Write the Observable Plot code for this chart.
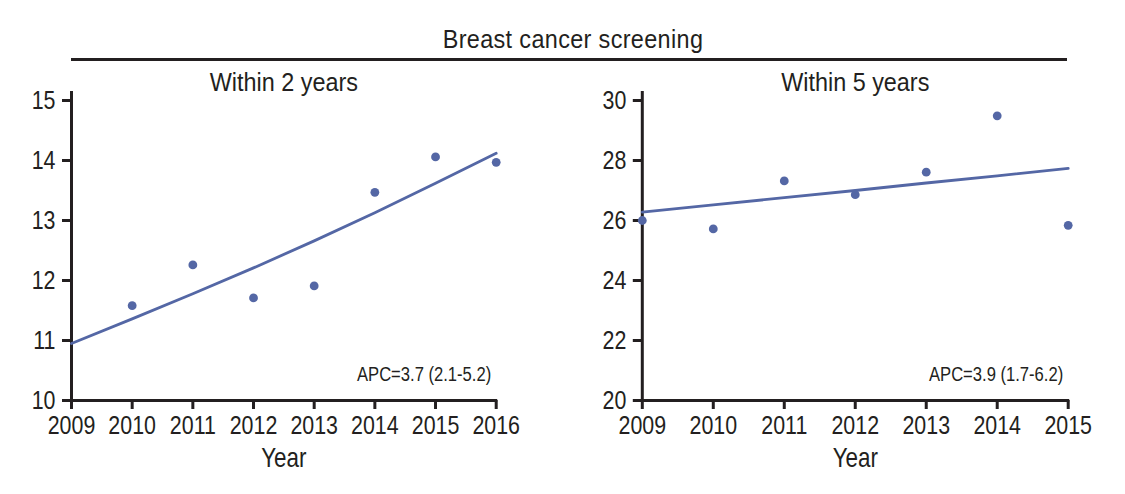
<!DOCTYPE html>
<html>
<head>
<meta charset="utf-8">
<script src="https://cdn.jsdelivr.net/npm/d3@7"></script>
<script src="https://cdn.jsdelivr.net/npm/@observablehq/plot@0.6"></script>
<style>
  html, body { margin: 0; padding: 0; background: #fff; }
  #wrap { position: relative; width: 1125px; height: 494px; overflow: hidden;
          font-family: "Liberation Sans", Arial, sans-serif; color: #231f20; }
  #title { position: absolute; left: 0; width: 1146px; top: 26.3px; text-align: center;
           font-size: 26px; line-height: 26px; letter-spacing: 0.4px;
           transform: scaleX(0.9); transform-origin: 573px 0; white-space: nowrap; }
  #rule { position: absolute; left: 71px; top: 57.8px; width: 996px; height: 3px; background: #231f20; }
  .panel { position: absolute; top: 0; }
</style>
</head>
<body>
<div id="wrap">
  <div id="title"></div>
  <div id="rule"></div>
  <div id="left" class="panel" style="left:0px"></div>
  <div id="right" class="panel" style="left:560px"></div>
</div>
<script>
// ---- data ----
const chartTitle = "Breast cancer screening";
const panelTitles = ["Within 2 years", "Within 5 years"];
const apcLabels = ["APC=3.7 (2.1-5.2)", "APC=3.9 (1.7-6.2)"];
const axisLabel = "Year";

const yearsLeft = [2009, 2010, 2011, 2012, 2013, 2014, 2015, 2016];
const obsYearsLeft = [2010, 2011, 2012, 2013, 2014, 2015, 2016];
const obsLeft = [11.58, 12.26, 11.71, 11.91, 13.47, 14.06, 13.97];
const trendLeft = [10.95, 11.36, 11.78, 12.21, 12.66, 13.13, 13.62, 14.12];
const yTicksLeft = [10, 11, 12, 13, 14, 15];

const yearsRight = [2009, 2010, 2011, 2012, 2013, 2014, 2015];
const obsRight = [26.0, 25.72, 27.32, 26.86, 27.61, 29.49, 25.84];
const trendRight = [26.28, 26.52, 26.76, 27.0, 27.25, 27.49, 27.74];
const yTicksRight = [20, 22, 24, 26, 28, 30];

const blue = "#5467a5";
const ink = "#231f20";
const font = '"Liberation Sans", Arial, sans-serif';

// horizontally condense text (reference uses a condensed typeface)
function squeezeNodes(nodes, s) {
  nodes.forEach(t => {
    const tr = t.getAttribute("transform") || "";
    const x = +(t.getAttribute("x") || 0);
    t.setAttribute("transform", `${tr} translate(${x},0) scale(${s},1) translate(${-x},0)`);
  });
}

function panel({width, marginLeft, marginRight, years, obsYears, obs, trend, yTicks, title, apc}) {
  const obsData = obsYears.map((y, i) => ({year: y, value: obs[i]}));
  const trendData = years.map((y, i) => ({year: y, value: trend[i]}));
  const xDom = [years[0], years[years.length - 1]];
  const yDom = [yTicks[0], yTicks[yTicks.length - 1]];
  const svg = Plot.plot({
    width, height: 494,
    marginLeft, marginRight, marginTop: 100, marginBottom: 94,
    style: {fontFamily: font, fontSize: "25.5px", color: ink, background: "transparent", overflow: "visible"},
    x: {domain: xDom, type: "linear"},
    y: {domain: yDom, type: "linear"},
    marks: [
      Plot.axisX({ticks: years, tickFormat: "d", tickSize: 9, tickPadding: 6, strokeWidth: 3, label: null, fontSize: 25.5}),
      Plot.axisY({ticks: yTicks, tickFormat: "d", tickSize: 9, tickPadding: 7, strokeWidth: 3, label: null, fontSize: 25.5}),
      Plot.ruleX([xDom[0]], {stroke: ink, strokeWidth: 3, insetTop: -9, insetBottom: -1.5}),
      Plot.ruleY([yDom[0]], {stroke: ink, strokeWidth: 3, insetLeft: -1.5, insetRight: -1.5}),
      Plot.line(trendData, {x: "year", y: "value", stroke: blue, strokeWidth: 2.8}),
      Plot.dot(obsData, {x: "year", y: "value", r: 4.4, fill: blue, stroke: "none"}),
      Plot.text([title], {frameAnchor: "top", lineAnchor: "bottom", dy: -10, fontSize: 26, fill: ink}),
      Plot.text([apc], {frameAnchor: "bottom-right", textAnchor: "end", lineAnchor: "bottom", dx: -5, dy: -20, fontSize: 20.5, fill: ink}),
      Plot.text([axisLabel], {frameAnchor: "bottom", lineAnchor: "top", dy: 47, fontSize: 27, fill: ink})
    ]
  });
  squeezeNodes(svg.querySelectorAll('g[aria-label="x-axis tick label"] text'), 0.84);
  squeezeNodes(svg.querySelectorAll('g[aria-label="y-axis tick label"] text'), 0.84);
  const textGroups = svg.querySelectorAll('g[aria-label="text"]');
  const scales = [0.9, 0.81, 0.83]; // panel title, APC, axis label
  textGroups.forEach((g, i) => squeezeNodes(g.querySelectorAll("text"), scales[i]));
  return svg;
}

document.getElementById("left").append(panel({
  width: 560, marginLeft: 71, marginRight: 64.3,
  years: yearsLeft, obsYears: obsYearsLeft, obs: obsLeft, trend: trendLeft, yTicks: yTicksLeft,
  title: panelTitles[0], apc: apcLabels[0]
}));
document.getElementById("right").append(panel({
  width: 565, marginLeft: 81.8, marginRight: 57.3,
  years: yearsRight, obsYears: yearsRight, obs: obsRight, trend: trendRight, yTicks: yTicksRight,
  title: panelTitles[1], apc: apcLabels[1]
}));
document.getElementById("title").textContent = chartTitle;
</script>
</body>
</html>
